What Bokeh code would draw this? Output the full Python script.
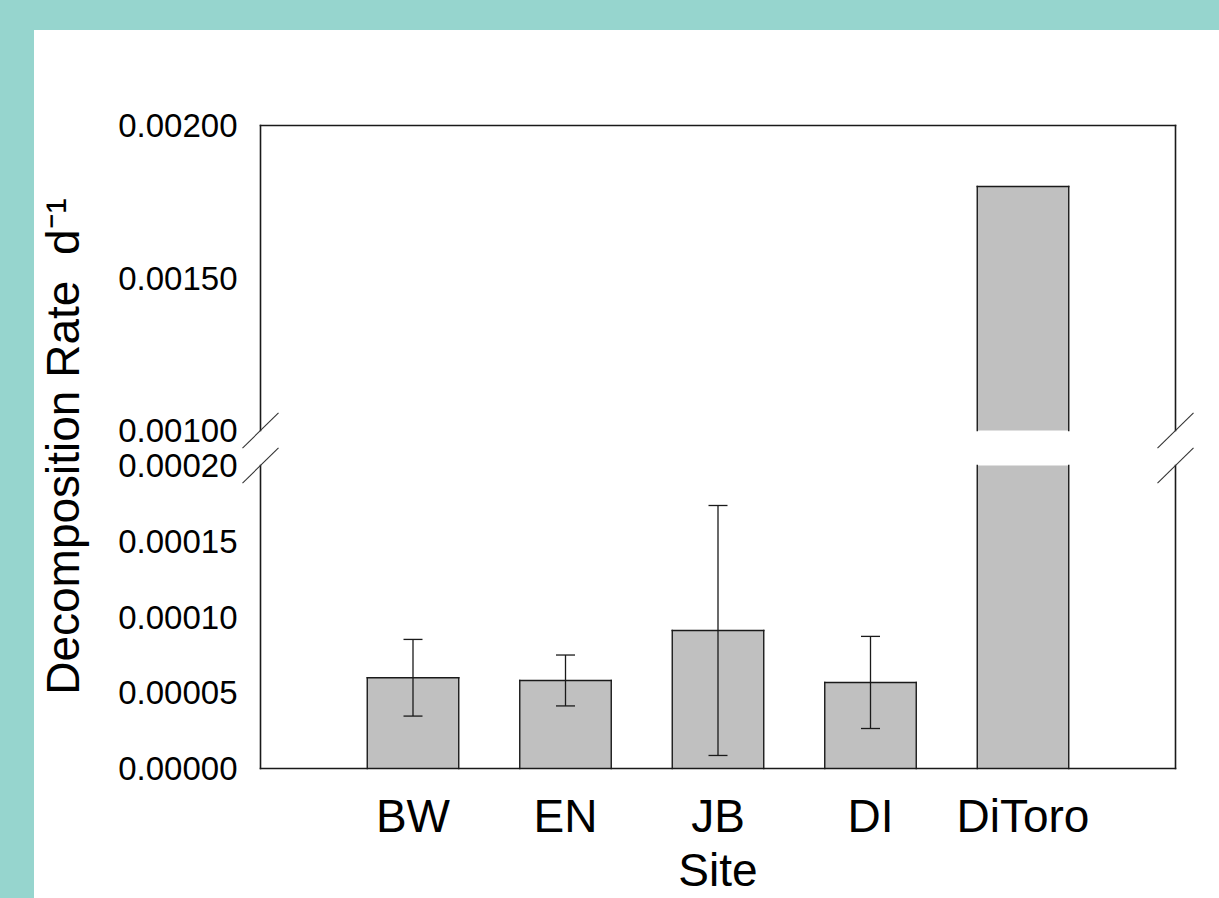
from bokeh.plotting import figure
from bokeh.models import Range1d, LinearAxis, FixedTicker, Spacer
from bokeh.layouts import column, row
from bokeh.embed import file_html
from bokeh.resources import INLINE

# ---------------- data ----------------
sites = ["BW", "EN", "JB", "DI", "DiToro"]
rate = [0.0000599, 0.0000581, 0.0000911, 0.0000568, 0.00180]
sem = [0.0000253, 0.0000168, 0.0000825, 0.0000304, 0.0]
has_err = [True, True, True, True, False]

lower_ticks = [0.0, 0.00005, 0.00010, 0.00015, 0.00020]
lower_labels = ["0.00000", "0.00005", "0.00010", "0.00015", "0.00020"]
upper_ticks = [0.00100, 0.00150, 0.00200]
upper_labels = ["0.00100", "0.00150", "0.00200"]

x_title = "Site"
y_title = "Decomposition Rate\u00a0\u00a0d\u207b\u00b9"

# ---------------- style / geometry ----------------
TEAL = "#96D5CE"
BAR = "#C0C0C0"
INK = "#1a1a1a"
FONT = "Liberation Sans"

PAD_L, PAD_T = 34, 30
FIG_W, FIG_H = 1219 - PAD_L, 898 - PAD_T
AX_L, AX_R = 226, 1141                       # px of x = 0 and x = n+1
FL, FR, FT, FB = AX_L - 20, AX_R + 20, 90, 742   # frame edges (px in figure)
Y_TOP, Y_BRK_U, Y_BRK_L, Y_BOT = 95, 400, 435, 738   # px of 0.002, 0.001, 0.0002, 0

BRK_LO = lower_ticks[-1]
BRK_HI = upper_ticks[0]
Y_MAX = upper_ticks[-1]
n = len(sites)
X_MIN, X_MAX = 0, n + 1
BAR_W = 0.6

xs = (X_MAX - X_MIN) / (AX_R - AX_L)
lp = BRK_LO / (Y_BOT - Y_BRK_L)
up = (Y_MAX - BRK_HI) / (Y_BRK_U - Y_TOP)

x_range = Range1d(X_MIN - (AX_L - FL) * xs, X_MAX + (FR - AX_R) * xs)
lo_range = Range1d(-(FB - Y_BOT) * lp, (Y_BOT - FT) * lp)
up_range = Range1d(BRK_HI - (FB - Y_BRK_U) * up, Y_MAX + (Y_TOP - FT) * up)


def up_to_lo(v):
    f = (v - up_range.start) / (up_range.end - up_range.start)
    return lo_range.start + f * (lo_range.end - lo_range.start)


p = figure(width=FIG_W, height=FIG_H, x_range=x_range, y_range=lo_range,
           output_backend="svg", toolbar_location=None,
           x_axis_type=None, y_axis_type=None,
           min_border_left=FL, min_border_right=FIG_W - FR,
           min_border_top=FT, min_border_bottom=FIG_H - FB,
           outline_line_color=None, background_fill_color="white",
           border_fill_color="white")
p.extra_y_ranges = {"upper": up_range}
p.xgrid.visible = False
p.ygrid.visible = False

# ---------------- axes ----------------
xpos = [i + 1 for i in range(n)]
xaxis = LinearAxis(ticker=FixedTicker(ticks=xpos),
                   major_label_overrides={xpos[i]: sites[i] for i in range(n)})
xaxis.axis_line_color = None
xaxis.major_tick_line_color = None
xaxis.minor_tick_line_color = None
xaxis.major_label_text_font = FONT
xaxis.major_label_text_font_size = "46px"
xaxis.major_label_text_color = "black"
xaxis.major_label_standoff = 11
xaxis.axis_label = x_title
xaxis.axis_label_text_font = FONT
xaxis.axis_label_text_font_size = "46px"
xaxis.axis_label_text_font_style = "normal"
xaxis.axis_label_text_color = "black"
xaxis.axis_label_standoff = -1
p.add_layout(xaxis, "below")

up_pos = [up_to_lo(v) for v in upper_ticks]
yticks = lower_ticks + up_pos
yover = {}
for t, s in zip(lower_ticks, lower_labels):
    yover[t] = s
for t, s in zip(up_pos, upper_labels):
    yover[t] = s
yaxis = LinearAxis(ticker=FixedTicker(ticks=yticks), major_label_overrides=yover)
yaxis.axis_line_color = None
yaxis.major_tick_line_color = None
yaxis.minor_tick_line_color = None
yaxis.major_label_text_font = FONT
yaxis.major_label_text_font_size = "33px"
yaxis.major_label_text_color = "black"
yaxis.major_label_standoff = -3
yaxis.axis_label = y_title
yaxis.axis_label_text_font = FONT
yaxis.axis_label_text_font_size = "46px"
yaxis.axis_label_text_font_style = "normal"
yaxis.axis_label_text_color = "black"
yaxis.axis_label_standoff = 26
p.add_layout(yaxis, "left")

# ---------------- bars ----------------
lo_top = [min(v, BRK_LO) for v in rate]
p.vbar(x=xpos, width=BAR_W, bottom=0, top=lo_top, fill_color=BAR, line_color=None)
hi_x = [xpos[i] for i in range(n) if rate[i] > BRK_HI]
hi_top = [rate[i] for i in range(n) if rate[i] > BRK_HI]
p.vbar(x=hi_x, width=BAR_W, bottom=BRK_HI, top=hi_top, fill_color=BAR,
       line_color=None, y_range_name="upper")

# bar outlines: sides and tops
lx0, ly0, lx1, ly1 = [], [], [], []
ux0, uy0, ux1, uy1 = [], [], [], []
for i in range(n):
    xl, xr = xpos[i] - BAR_W / 2, xpos[i] + BAR_W / 2
    for xe in (xl, xr):
        lx0.append(xe); ly0.append(0); lx1.append(xe); ly1.append(lo_top[i])
    if rate[i] <= BRK_LO:
        lx0.append(xl); ly0.append(rate[i]); lx1.append(xr); ly1.append(rate[i])
    if rate[i] > BRK_HI:
        for xe in (xl, xr):
            ux0.append(xe); uy0.append(BRK_HI); ux1.append(xe); uy1.append(rate[i])
        ux0.append(xl); uy0.append(rate[i]); ux1.append(xr); uy1.append(rate[i])
p.segment(x0=lx0, y0=ly0, x1=lx1, y1=ly1, line_color=INK, line_width=1.4, line_cap="square")
p.segment(x0=ux0, y0=uy0, x1=ux1, y1=uy1, line_color=INK, line_width=1.4,
          line_cap="square", y_range_name="upper")

# error bars
CAP = 9.5 * xs
ex = [xpos[i] for i in range(n) if has_err[i]]
elo = [rate[i] - sem[i] for i in range(n) if has_err[i]]
ehi = [rate[i] + sem[i] for i in range(n) if has_err[i]]
p.segment(x0=ex, y0=elo, x1=ex, y1=ehi, line_color=INK, line_width=1.3)
p.segment(x0=[x - CAP for x in ex], y0=ehi, x1=[x + CAP for x in ex], y1=ehi,
          line_color=INK, line_width=1.3)
p.segment(x0=[x - CAP for x in ex], y0=elo, x1=[x + CAP for x in ex], y1=elo,
          line_color=INK, line_width=1.3)

# ---------------- frame with broken axis ----------------
p.segment(x0=[X_MIN, X_MAX, X_MIN], y0=[0, 0, 0], x1=[X_MIN, X_MAX, X_MAX], y1=[BRK_LO, BRK_LO, 0],
          line_color=INK, line_width=1.6, line_cap="square")
p.segment(x0=[X_MIN, X_MAX, X_MIN], y0=[BRK_HI, BRK_HI, Y_MAX], x1=[X_MIN, X_MAX, X_MAX],
          y1=[Y_MAX, Y_MAX, Y_MAX], line_color=INK, line_width=1.6, line_cap="square",
          y_range_name="upper")

DX = 18 * xs
DYL = 17.6 * lp
DYU = 17.6 * up
p.segment(x0=[X_MIN - DX, X_MAX - DX], y0=[BRK_LO - DYL] * 2,
          x1=[X_MIN + DX, X_MAX + DX], y1=[BRK_LO + DYL] * 2,
          line_color="#333333", line_width=1.1)
p.segment(x0=[X_MIN - DX, X_MAX - DX], y0=[BRK_HI - DYU] * 2,
          x1=[X_MIN + DX, X_MAX + DX], y1=[BRK_HI + DYU] * 2,
          line_color="#333333", line_width=1.1, y_range_name="upper")

top_bar = Spacer(width=PAD_L + FIG_W, height=PAD_T, styles={"background-color": TEAL})
left_bar = Spacer(width=PAD_L, height=FIG_H, styles={"background-color": TEAL})
layout = column(top_bar, row(left_bar, p))

open("out.html", "w").write(file_html(layout, INLINE))
